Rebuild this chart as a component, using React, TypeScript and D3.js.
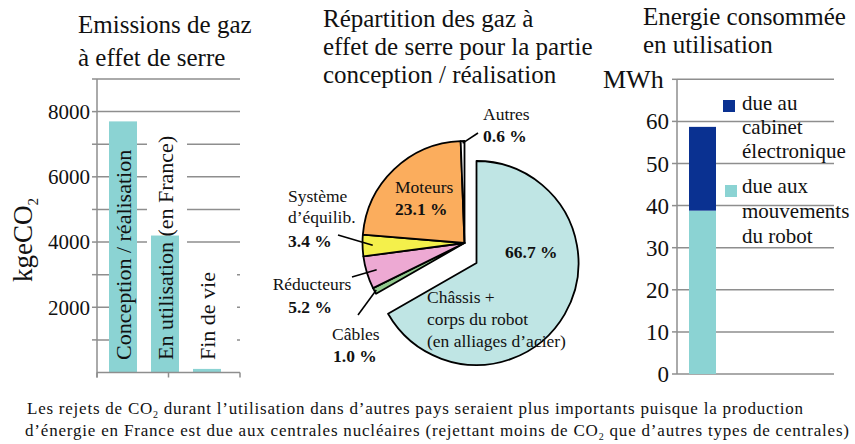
import React from 'react';
import * as d3 from 'd3';

const FONT = "'Liberation Serif', serif";
const GRID = '#8e8e8e';

// emissions (kgeCO2)
const emissionCategories = ['Conception / réalisation', 'En utilisation (en France)', 'Fin de vie'];
const emissionValues = [7700, 4200, 110];
const emissionGrid = [1000, 2000, 3000, 4000, 5000, 6000, 7000, 8000, 9000];
const emissionTickLabels = [2000, 4000, 6000, 8000];

// pie, conception / realisation
const pieNames = [
  ['Châssis +', 'corps du robot', '(en alliages d’acier)'],
  ['Câbles'],
  ['Réducteurs'],
  ['Système', 'd’équilib.'],
  ['Moteurs'],
  ['Autres'],
];
const pieValues = [66.7, 1.0, 5.2, 3.4, 23.1, 0.6];
const pieColors = ['#bfe5e4', '#92c98e', '#eda9d3', '#f4f04b', '#fbad5d', '#ffffff'];

// energy (MWh)
const energySeries = ['due aux mouvements du robot', 'due au cabinet électronique'];
const energyValues = [38.8, 19.9];
const energyColors = ['#8bd3d3', '#0a3191'];
const energyGrid = [0, 10, 20, 30, 40, 50, 60, 70];
const energyTickLabels = [0, 10, 20, 30, 40, 50, 60];

// label placement for the pie (layout only)
const pieLabelLayout = [
  { nx: 427, ny: [303, 325, 347], px: 505, py: 258, anchor: 'start' },
  { nx: 332, ny: [340], px: 333, py: 362, anchor: 'start', lr: 0.98, lx: 358, ly: 315 },
  { nx: 312, ny: [290], px: 310, py: 313, anchor: 'middle', lr: 0.9, lx: 352, ly: 277 },
  { nx: 288, ny: [202, 223], px: 288, py: 247, anchor: 'start', lr: 0.9, lx: 338, ly: 235 },
  { nx: 395, ny: [193], px: 395, py: 215, anchor: 'start' },
  { nx: 483, ny: [120], px: 483, py: 142, anchor: 'start', lr: 0.98, lx: 478, ly: 133 },
];

const EmissionsChart = () => {
  const x0 = 97, x1 = 240;
  const y = d3.scaleLinear().domain([0, 9000]).range([372.5, 79]);
  const x = d3.scaleBand().domain(emissionCategories).range([109, 221]).paddingInner(1 / 3);
  const bw = x.bandwidth();
  const c = (i) => x(emissionCategories[i]) + bw / 2;

  // white label boxes hiding the grid behind the bar captions
  const boxes = [
    { x: x(emissionCategories[0]) + bw, w: x(emissionCategories[1]) - x(emissionCategories[0]) - bw, top: 258 },
    { x: c(1) - 18, w: 40, top: 126 },
    { x: x(emissionCategories[2]) - 6, w: x1 - 3 - x(emissionCategories[2]) + 6, top: 265 },
  ];

  return (
    <g>
      <text x={78} y={33} fontSize={25}>Emissions de gaz</text>
      <text x={78} y={66} fontSize={25}>à effet de serre</text>

      {emissionGrid.map(v => (
        <g key={v}>
          <line x1={x0} x2={x1} y1={y(v)} y2={y(v)} stroke={GRID} strokeWidth={1.5} />
          <line x1={x0 - 5} x2={x0} y1={y(v)} y2={y(v)} stroke={GRID} strokeWidth={1.5} />
        </g>
      ))}
      {boxes.map((b, i) => (
        <rect key={i} x={b.x} y={b.top} width={b.w} height={y(0) - b.top} fill="#fff" />
      ))}
      {emissionValues.map((v, i) => (
        <rect key={i} x={x(emissionCategories[i])} y={y(v)} width={bw} height={y(0) - y(v)} fill="#8bd3d3" />
      ))}
      <line x1={x0} x2={x0} y1={y(9000)} y2={y(0) + 5} stroke={GRID} strokeWidth={1.5} />
      <line x1={x0} x2={x1} y1={y(0)} y2={y(0)} stroke={GRID} strokeWidth={1.5} />
      {[x0, (x0 + x1) / 2, x1].map((tx, i) => (
        <line key={i} x1={tx} x2={tx} y1={y(0)} y2={y(0) + 5} stroke={GRID} strokeWidth={1.5} />
      ))}
      {emissionTickLabels.map(v => (
        <text key={v} x={x0 - 7} y={y(v)} dy="0.35em" textAnchor="end" fontSize={21}>{v}</text>
      ))}
      <text transform={`translate(32,282) rotate(-90)`} fontSize={27}>
        kgeCO<tspan fontSize={15} dy={6}>2</tspan>
      </text>
      {emissionCategories.map((cat, i) => (
        <text key={cat} transform={`translate(${c(i) + 8},360) rotate(-90)`} fontSize={22}>{cat}</text>
      ))}
    </g>
  );
};

const PieChart = () => {
  const cx = 464.5, cy = 243, r = 102;
  const explode = [12, 20];
  const arcs = d3.pie().sort(null).value(d => d)(pieValues);
  const arc = d3.arc().innerRadius(0).outerRadius(r);
  const pt = (a, rr) => [cx + rr * Math.sin(a), cy - rr * Math.cos(a)];

  return (
    <g>
      <text x={323} y={27} fontSize={25}>Répartition des gaz à</text>
      <text x={323} y={55} fontSize={25}>effet de serre pour la partie</text>
      <text x={323} y={83} fontSize={25}>conception / réalisation</text>

      {arcs.map((a, i) => {
        const off = i === 0 ? explode : [0, 0];
        return (
          <path key={i} d={arc(a)} transform={`translate(${cx + off[0]},${cy + off[1]})`}
            fill={pieColors[i]} stroke="#000" strokeWidth={1.8} strokeLinejoin="round" />
        );
      })}

      {arcs.map((a, i) => {
        const L = pieLabelLayout[i];
        if (!L.lr) return null;
        const p = pt((a.startAngle + a.endAngle) / 2, r * L.lr);
        return <line key={i} x1={p[0]} y1={p[1]} x2={L.lx} y2={L.ly} stroke="#000" strokeWidth={1.6} />;
      })}

      {pieValues.map((v, i) => {
        const L = pieLabelLayout[i];
        return (
          <g key={i} fontSize={17.5}>
            {pieNames[i].map((t, j) => (
              <text key={j} x={L.nx} y={L.ny[j]} textAnchor={L.anchor}>{t}</text>
            ))}
            <text x={L.px} y={L.py} textAnchor={L.anchor} fontWeight="bold">{`${v.toFixed(1)} %`}</text>
          </g>
        );
      })}
    </g>
  );
};

const EnergyChart = () => {
  const x0 = 677, x1 = 834;
  const y = d3.scaleLinear().domain([0, 70]).range([374, 79.3]);
  const x = d3.scaleBand().domain(['robot']).range([689, 716]);
  const keys = energySeries;
  const row = { robot: 'robot' };
  keys.forEach((k, i) => { row[k] = energyValues[i]; });
  const stacked = d3.stack().keys(keys)([row]);

  const legend = [
    { sq: [725, 185], lines: ['due aux', 'mouvements', 'du robot'], ys: [193, 218, 243] },
    { sq: [723, 100], lines: ['due au', 'cabinet', 'électronique'], ys: [110, 134, 158] },
  ];

  return (
    <g>
      <text x={643} y={25} fontSize={25}>Energie consommée</text>
      <text x={643} y={53} fontSize={25}>en utilisation</text>
      <text x={603} y={88} fontSize={26}>MWh</text>

      {energyGrid.map(v => (
        <g key={v}>
          <line x1={x0} x2={x1} y1={y(v)} y2={y(v)} stroke={GRID} strokeWidth={1.5} />
          <line x1={x0 - 5} x2={x0} y1={y(v)} y2={y(v)} stroke={GRID} strokeWidth={1.5} />
        </g>
      ))}
      <line x1={x0} x2={x0} y1={y(70)} y2={y(0)} stroke={GRID} strokeWidth={1.5} />
      {stacked.map((s, i) => (
        <rect key={s.key} x={x('robot')} width={x.bandwidth()} y={y(s[0][1])} height={y(s[0][0]) - y(s[0][1])} fill={energyColors[i]} />
      ))}
      {energyTickLabels.map(v => (
        <text key={v} x={x0 - 8} y={y(v)} dy="0.35em" textAnchor="end" fontSize={23}>{v}</text>
      ))}
      {legend.map((l, i) => (
        <g key={i}>
          <rect x={l.sq[0]} y={l.sq[1]} width={12} height={12} fill={energyColors[i]} />
          {l.lines.map((t, j) => (
            <text key={j} x={742} y={l.ys[j]} fontSize={21}>{t}</text>
          ))}
        </g>
      ))}
    </g>
  );
};

export default function App() {
  return (
    <div style={{ position: 'fixed', left: 0, top: 0 }}>
      <svg width={855} height={444} style={{ display: 'block', background: '#fff', fontFamily: FONT }} fill="#111">
        <EmissionsChart />
        <PieChart />
        <EnergyChart />
        <g fontSize={17}>
          <text x={27} y={414} textLength={776} lengthAdjust="spacing">
            Les rejets de CO<tspan fontSize={10} dy={4}>2</tspan><tspan dy={-4}> durant l’utilisation dans d’autres pays seraient plus importants puisque la production</tspan>
          </text>
          <text x={25} y={436} textLength={824} lengthAdjust="spacing">
            d’énergie en France est due aux centrales nucléaires (rejettant moins de CO<tspan fontSize={10} dy={4}>2</tspan><tspan dy={-4}> que d’autres types de centrales)</tspan>
          </text>
        </g>
      </svg>
    </div>
  );
}
